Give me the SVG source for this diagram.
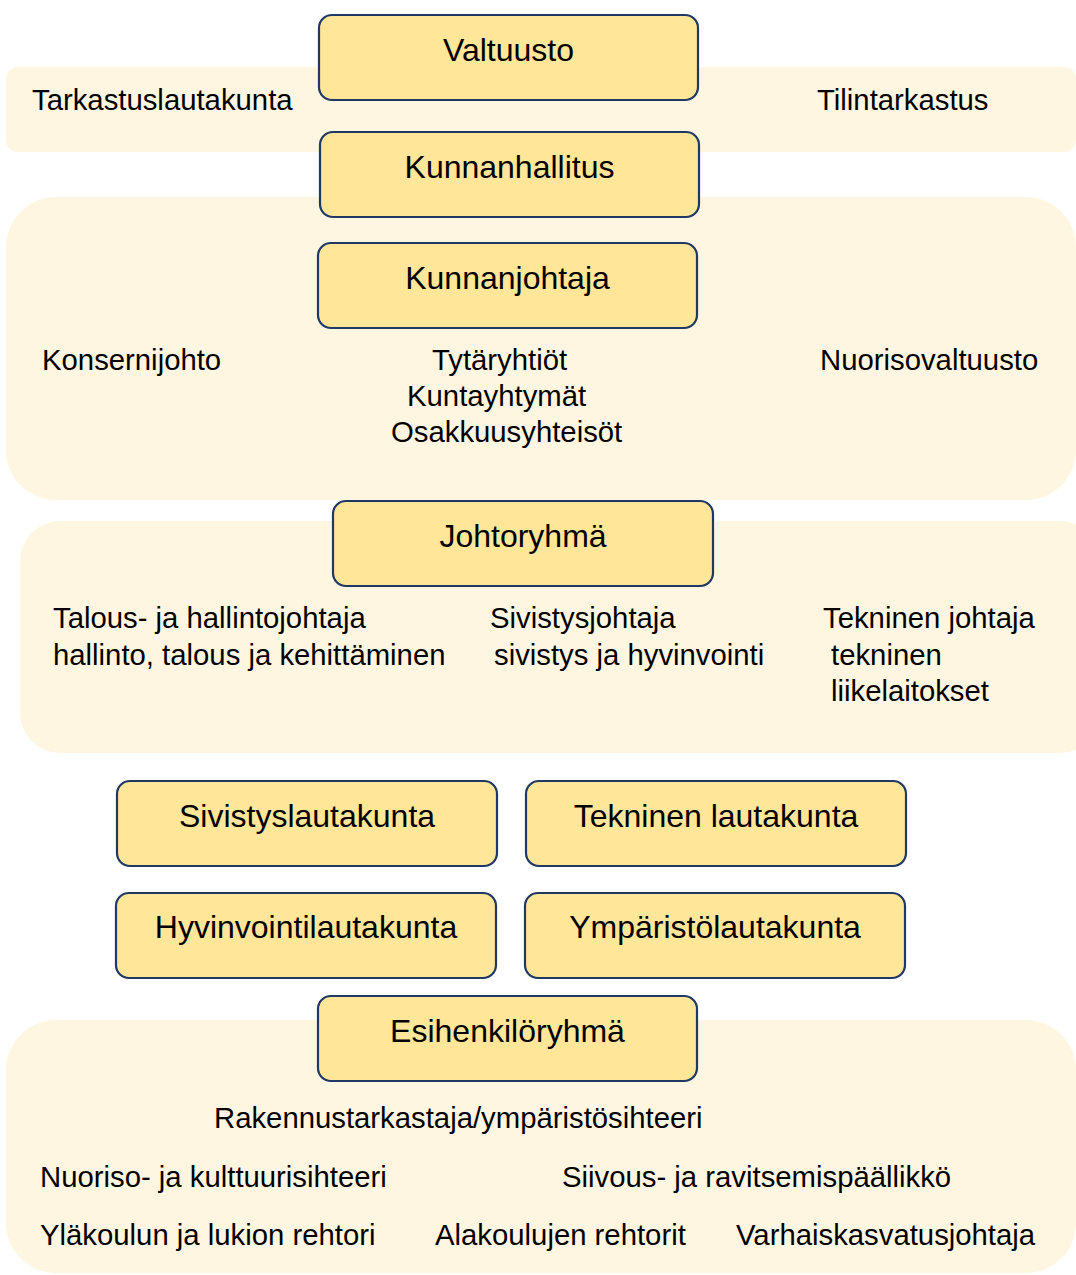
<svg xmlns="http://www.w3.org/2000/svg" width="1076" height="1275" viewBox="0 0 1076 1275">
<style>
.panel{fill:#FFF6E2;stroke:none}
.box{fill:#FFE699;stroke:#1F3864;stroke-width:2.2}
.bt{font-family:"Liberation Sans",Arial,sans-serif;font-size:32px;fill:#000;text-anchor:middle}
.pt{font-family:"Liberation Sans",Arial,sans-serif;font-size:29.3px;fill:#000}
</style>
<rect width="1076" height="1275" fill="#FFFFFF"/>
<g id="panels">
<rect class="panel" x="6" y="67" width="1070" height="85" rx="12"/>
<rect class="panel" x="6" y="197" width="1070" height="303" rx="50"/>
<rect class="panel" x="20" y="521" width="1080" height="232" rx="40"/>
<rect class="panel" x="6" y="1020" width="1070" height="253" rx="50"/>
</g>
<g id="connectors"></g>
<g id="panel-texts">
<text class="pt" x="32" y="110">Tarkastuslautakunta</text>
<text class="pt" x="817" y="110">Tilintarkastus</text>
<text class="pt" x="42" y="370">Konsernijohto</text>
<text class="pt" x="432" y="370">Tytäryhtiöt</text>
<text class="pt" x="407" y="406">Kuntayhtymät</text>
<text class="pt" x="391" y="442">Osakkuusyhteisöt</text>
<text class="pt" x="820" y="370">Nuorisovaltuusto</text>
<text class="pt" x="53" y="628">Talous- ja hallintojohtaja</text>
<text class="pt" x="53" y="665">hallinto, talous ja kehittäminen</text>
<text class="pt" x="490" y="628">Sivistysjohtaja</text>
<text class="pt" x="494" y="665">sivistys ja hyvinvointi</text>
<text class="pt" x="823" y="628">Tekninen johtaja</text>
<text class="pt" x="831" y="665">tekninen</text>
<text class="pt" x="831" y="701">liikelaitokset</text>
<text class="pt" x="214" y="1128">Rakennustarkastaja/ympäristösihteeri</text>
<text class="pt" x="40" y="1187">Nuoriso- ja kulttuurisihteeri</text>
<text class="pt" x="562" y="1187">Siivous- ja ravitsemispäällikkö</text>
<text class="pt" x="40" y="1245">Yläkoulun ja lukion rehtori</text>
<text class="pt" x="435" y="1245">Alakoulujen rehtorit</text>
<text class="pt" x="736" y="1245">Varhaiskasvatusjohtaja</text>
</g>
<g id="valtuusto"><rect class="box" x="319" y="15" width="379" height="85" rx="13"/><text class="bt" x="508.5" y="61">Valtuusto</text></g>
<g id="kunnanhallitus"><rect class="box" x="320" y="132" width="379" height="85" rx="13"/><text class="bt" x="509.5" y="178">Kunnanhallitus</text></g>
<g id="kunnanjohtaja"><rect class="box" x="318" y="243" width="379" height="85" rx="13"/><text class="bt" x="507.5" y="289">Kunnanjohtaja</text></g>
<g id="johtoryhma"><rect class="box" x="333" y="501" width="380" height="85" rx="13"/><text class="bt" x="523" y="547">Johtoryhmä</text></g>
<g id="sivistyslautakunta"><rect class="box" x="117" y="781" width="380" height="85" rx="13"/><text class="bt" x="307" y="827">Sivistyslautakunta</text></g>
<g id="tekninen-lautakunta"><rect class="box" x="526" y="781" width="380" height="85" rx="13"/><text class="bt" x="716" y="827">Tekninen lautakunta</text></g>
<g id="hyvinvointilautakunta"><rect class="box" x="116" y="893" width="380" height="85" rx="13"/><text class="bt" x="306" y="938">Hyvinvointilautakunta</text></g>
<g id="ymparistolautakunta"><rect class="box" x="525" y="893" width="380" height="85" rx="13"/><text class="bt" x="715" y="938">Ympäristölautakunta</text></g>
<g id="esihenkiloryhma"><rect class="box" x="318" y="996" width="379" height="85" rx="13"/><text class="bt" x="507.5" y="1042">Esihenkilöryhmä</text></g>
</svg>
